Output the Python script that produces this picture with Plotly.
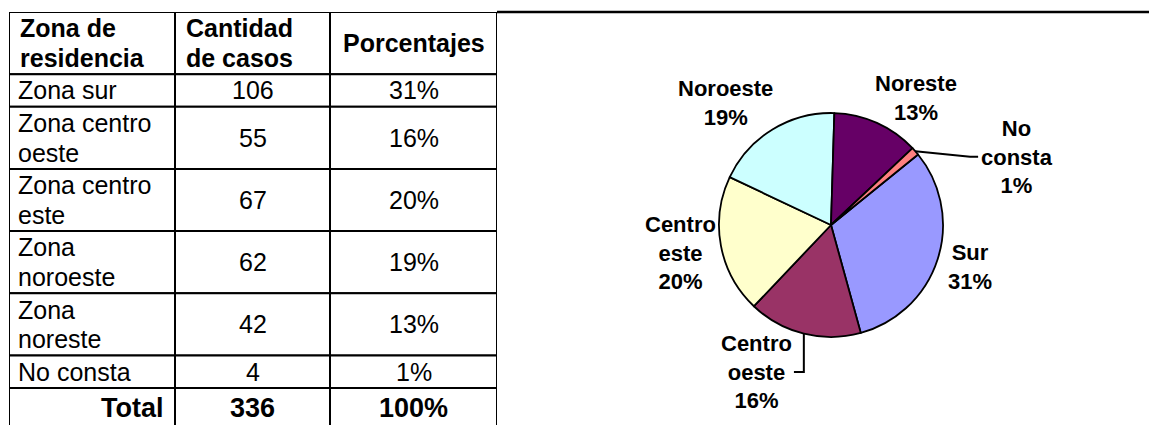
import math
import plotly.graph_objects as go

# ---- data ----
header_labels = ["Zona de<br>residencia", "Cantidad<br>de casos", "Porcentajes"]
zonas = ["Zona sur", "Zona centro<br>oeste", "Zona centro<br>este", "Zona<br>noroeste",
         "Zona<br>noreste", "No consta"]
casos = [106, 55, 67, 62, 42, 4]
porcentajes = ["31%", "16%", "20%", "19%", "13%", "1%"]
total_label, total_casos, total_pct = "Total", 336, "100%"

pie_labels = ["Sur", "Centro oeste", "Centro este", "Noroeste", "Noreste", "No consta"]
pie_text = ["Sur<br>31%", "Centro<br>oeste<br>16%", "Centro<br>este<br>20%", "Noroeste<br>19%",
            "Noreste<br>13%", "No<br>consta<br>1%"]
pie_values = [106, 55, 67, 62, 42, 4]
pie_colors = ["#9999FF", "#993366", "#FFFFCC", "#CCFFFF", "#660066", "#FF8080"]

# ---- page geometry (browser body has an 8px margin) ----
W, H = 1157, 425
OFF = 8
FONT = "Arial, Liberation Sans, sans-serif"


def pxx(px):
    return (px - OFF) / W


def pxy(py):
    return 1 - (py - OFF) / H


fig = go.Figure()

# ---- table drawn on its own pixel-unit axes ----
TAB_L, TAB_R, TAB_T = 9, 497, 12
col_w = [166, 155, 167]
col_x = [0]
for w in col_w:
    col_x.append(col_x[-1] + w)
LINE_H, PAD = 29.7, 2.8

rows = [header_labels] + [[z, str(c), p] for z, c, p in zip(zonas, casos, porcentajes)] + \
       [[total_label, str(total_casos), total_pct]]
row_kind = ["header"] + ["body"] * len(zonas) + ["total"]

y_top = 0
annotations = []
shapes = []
for r_i, (cells, kind) in enumerate(zip(rows, row_kind)):
    n_lines = max(c.count("<br>") + 1 for c in cells)
    h = PAD + LINE_H * n_lines + (8 if kind == "total" else 0)
    y0, y1 = y_top, y_top + h
    y_top = y1
    for c_i, txt in enumerate(cells):
        x0, x1 = col_x[c_i], col_x[c_i + 1]
        shapes.append(dict(type="rect", xref="x", yref="y", x0=x0, x1=x1, y0=y0, y1=y1,
                           line=dict(color="black", width=2), fillcolor="white", layer="below"))
        if kind == "header":
            bold, size = True, 25
            if c_i < 2:
                xa, ax = "left", x0 + 9
            else:
                xa, ax = "center", (x0 + x1) / 2
        elif kind == "total":
            bold, size = True, 27
            if c_i == 0:
                xa, ax = "right", x1 - 9
            else:
                xa, ax = "center", (x0 + x1) / 2
        else:
            bold, size = False, 25
            if c_i == 0:
                xa, ax = "left", x0 + 7
            else:
                xa, ax = "center", (x0 + x1) / 2
        lines = txt.split("<br>")
        yc = (y0 + y1) / 2
        for l_i, line in enumerate(lines):
            ly = yc + (l_i - (len(lines) - 1) / 2) * LINE_H
            annotations.append(dict(xref="x", yref="y", x=ax, y=ly, xanchor=xa, yanchor="middle",
                                    text=("<b>%s</b>" % line) if bold else line, showarrow=False,
                                    font=dict(family=FONT, size=size, color="black")))

# invisible anchor trace so the table axes exist
fig.add_trace(go.Scatter(x=[col_x[0], col_x[-1]], y=[0, 0], mode="markers",
                         marker=dict(opacity=0), hoverinfo="skip", showlegend=False))

# ---- pie ----
cx, cy, r = 831, 225, 112
rotation = 51
fig.add_trace(go.Pie(
    labels=pie_labels, values=pie_values, sort=False, direction="clockwise",
    rotation=rotation, textinfo="none", hoverinfo="label+percent",
    marker=dict(colors=pie_colors, line=dict(color="black", width=1.8)),
    domain=dict(x=[pxx(cx - r), pxx(cx + r)], y=[pxy(cy + r), pxy(cy - r)]),
    showlegend=False,
))

label_style = {  # (angle shift deg, radius factor)
    "Sur": (-1, 1.30),
    "Centro oeste": (12.7, 1.47),
    "Centro este": (0, 1.37),
    "Noroeste": (-9.2, 1.44),
    "Noreste": (9.6, 1.36),
    "No consta": (21, 1.77),
}
total = sum(pie_values)
acc = 0
for lab, txt, v in zip(pie_labels, pie_text, pie_values):
    a0 = rotation + acc / total * 360
    acc += v
    a1 = rotation + acc / total * 360
    mid = (a0 + a1) / 2
    shift, rf = label_style[lab]
    ang = math.radians(mid + shift)
    lx = cx + rf * r * math.sin(ang)
    ly = cy - rf * r * math.cos(ang)
    annotations.append(dict(x=pxx(lx), y=pxy(ly), xref="paper", yref="paper",
                            text="<b>" + txt + "</b>", showarrow=False,
                            font=dict(family=FONT, size=22, color="black"),
                            align="center", xanchor="center", yanchor="middle"))
    ex = cx + r * math.sin(math.radians(mid))
    ey = cy - r * math.cos(math.radians(mid))
    if lab == "No consta":
        shapes.append(dict(type="path", xref="paper", yref="paper",
                           path=f"M {pxx(ex)} {pxy(ey)} L {pxx(lx - 47)} {pxy(ly)} L {pxx(lx - 39)} {pxy(ly)}",
                           line=dict(color="black", width=2)))
    if lab == "Centro oeste":
        shapes.append(dict(type="path", xref="paper", yref="paper",
                           path=f"M {pxx(ex)} {pxy(ey)} L {pxx(ex)} {pxy(ly)} L {pxx(lx + 37)} {pxy(ly)}",
                           line=dict(color="black", width=2)))

# top border of the enclosing frame
shapes.append(dict(type="line", xref="paper", yref="paper", x0=pxx(TAB_R), x1=1,
                   y0=pxy(TAB_T), y1=pxy(TAB_T), line=dict(color="black", width=2.5)))

fig.update_layout(
    width=W, height=H, margin=dict(l=0, r=0, t=0, b=0),
    paper_bgcolor="white", plot_bgcolor="rgba(0,0,0,0)",
    xaxis=dict(domain=[pxx(TAB_L), pxx(TAB_R)], range=[0, col_x[-1]], visible=False, fixedrange=True),
    yaxis=dict(domain=[0, pxy(TAB_T)], range=[H + OFF - TAB_T, 0], visible=False, fixedrange=True),
    shapes=shapes, annotations=annotations,
)
fig.write_html("out.html")
